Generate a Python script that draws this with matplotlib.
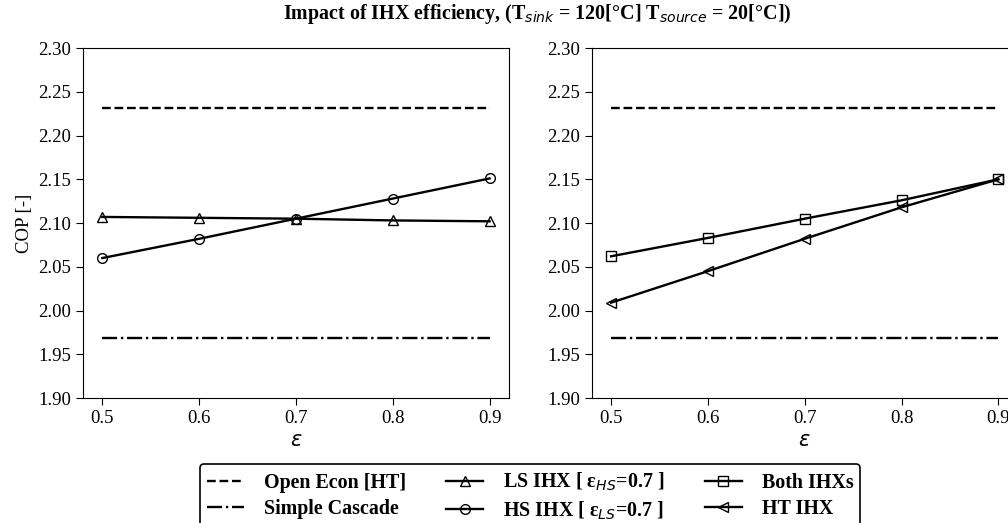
import numpy as np
import matplotlib.pyplot as plt

plt.rcParams['font.family'] = ['Liberation Serif', 'DejaVu Serif']
plt.rcParams['mathtext.fontset'] = 'dejavusans'

eff = [0.5, 0.6, 0.7, 0.8, 0.9]
open_econ = 2.232
simple_cascade = 1.969
ls_ihx = [2.107, 2.106, 2.105, 2.103, 2.102]
hs_ihx = [2.060, 2.082, 2.105, 2.128, 2.151]
both_ihx = [2.062, 2.083, 2.105, 2.126, 2.150]
ht_ihx = [2.009, 2.045, 2.082, 2.118, 2.150]
yticks = [1.90, 1.95, 2.00, 2.05, 2.10, 2.15, 2.20, 2.25, 2.30]

fig = plt.figure(figsize=(10.08, 5.23), dpi=100)
ax1 = fig.add_axes([0.0823, 0.239, 0.4226, 0.669])
ax2 = fig.add_axes([0.587, 0.239, 0.4226, 0.669])

lw = 1.7
ms = 7
handles = {}
for ax in (ax1, ax2):
    h1, = ax.plot(eff, [open_econ] * len(eff), 'k--', lw=lw, label='Open Econ [HT]')
    h2, = ax.plot(eff, [simple_cascade] * len(eff), 'k-.', lw=lw, label='Simple Cascade')
    handles['oe'] = h1
    handles['sc'] = h2

h3, = ax1.plot(eff, ls_ihx, 'k-', marker='^', mfc='none', ms=ms, lw=lw, label='LS IHX [ ε$_{HS}$=0.7 ]')
h4, = ax1.plot(eff, hs_ihx, 'k-', marker='o', mfc='none', ms=ms, lw=lw, label='HS IHX [ ε$_{LS}$=0.7 ]')
h5, = ax2.plot(eff, both_ihx, 'k-', marker='s', mfc='none', ms=ms, lw=lw, label='Both IHXs')
h6, = ax2.plot(eff, ht_ihx, 'k-', marker='<', mfc='none', ms=ms, lw=lw, label='HT IHX')

for ax in (ax1, ax2):
    ax.set_ylim(1.90, 2.30)
    ax.set_yticks(yticks)
    ax.set_yticklabels(['%.2f' % v for v in yticks])
    ax.set_xticks(eff)
    ax.tick_params(labelsize=13.5, direction='out', length=5)
    ax.set_xlabel(r'$\varepsilon$', fontsize=15)

ax1.set_ylabel('COP [-]', fontsize=13.5)

fig.suptitle(r'Impact of IHX efficiency, (T$_{sink}$ = 120[°C] T$_{source}$ = 20[°C])',
             x=0.533, y=0.997, fontsize=14.4, fontweight='bold')

hs = [handles['oe'], handles['sc'], h3, h4, h5, h6]
leg = fig.legend(hs, [h.get_label() for h in hs],
                 loc='upper center', bbox_to_anchor=(0.526, 0.113), ncol=3,
                 prop={'weight': 'bold', 'size': 14.4}, edgecolor='black', framealpha=1,
                 borderpad=0.35, labelspacing=0.3, columnspacing=2.0,
                 handlelength=1.85, handletextpad=1.0, borderaxespad=0)
leg.get_frame().set_linewidth(1.2)

fig.savefig('out.png', dpi=100)
